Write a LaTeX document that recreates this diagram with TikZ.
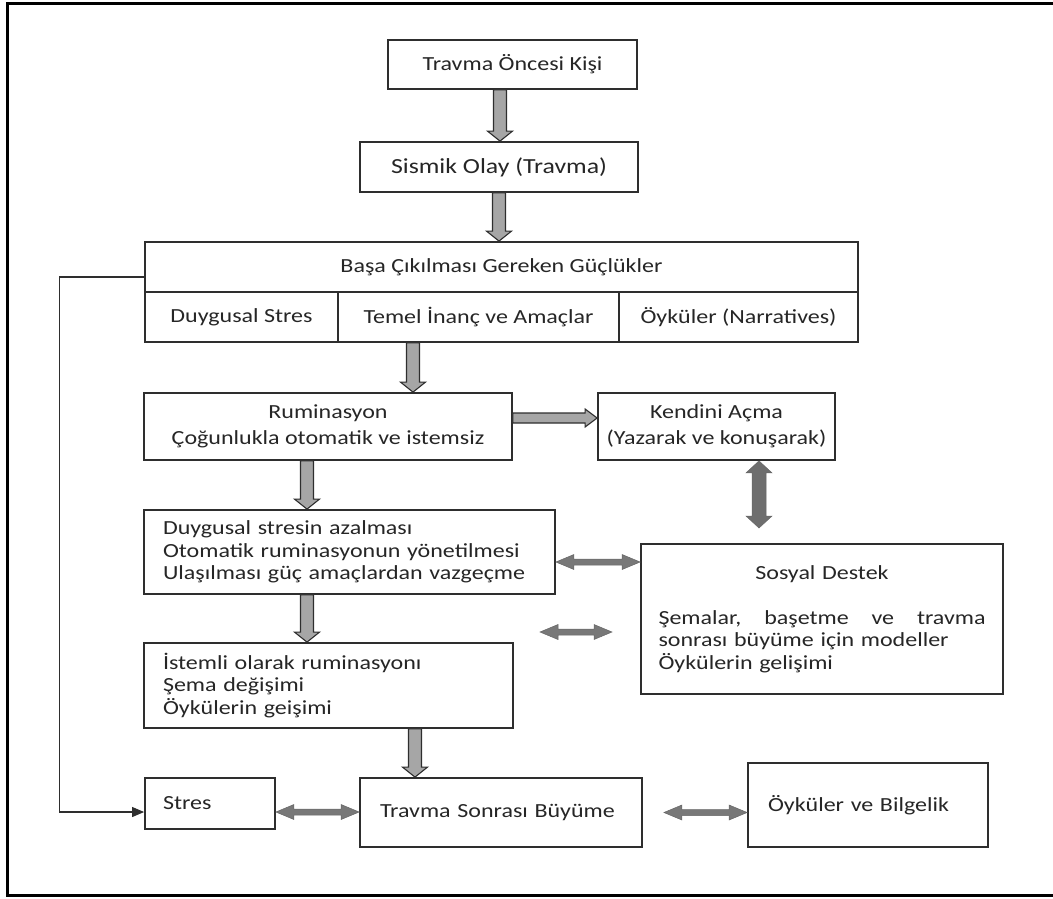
\documentclass[tikz,border=0pt]{standalone}
\usepackage{fontspec}
\setmainfont{Carlito}[FakeStretch=1.2]
\usetikzlibrary{calc,arrows.meta}

\definecolor{ink}{HTML}{262626}
\definecolor{edge}{HTML}{2E2E2E}
\definecolor{flowfill}{HTML}{A6A6A6}
\definecolor{linkfill}{HTML}{787878}
\definecolor{linkdark}{HTML}{6E6E6E}

% block arrow pointing down: shaft from #1, tip at the height of #2
\newcommand\downblk[2]{\path[flowarrow] let \p1=(#1), \p2=(#2) in
  (\x1-6.5pt,\y1) -- (\x1+6.5pt,\y1) -- (\x1+6.5pt,\y2+10pt) -- (\x1+12.5pt,\y2+10pt)
  -- (\x1,\y2) -- (\x1-12.5pt,\y2+10pt) -- (\x1-6.5pt,\y2+10pt) -- cycle;}
% block arrow pointing right
\newcommand\rightblk[2]{\path[flowarrow] let \p1=(#1), \p2=(#2) in
  (\x1,\y1+5pt) -- (\x2-12pt,\y1+5pt) -- (\x2-12pt,\y1+9pt) -- (\x2,\y1)
  -- (\x2-12pt,\y1-9pt) -- (\x2-12pt,\y1-5pt) -- (\x1,\y1-5pt) -- cycle;}
% vertical two-headed block arrow
\newcommand\vdblk[2]{\path[linkarrow, fill=linkdark] let \p1=(#1), \p2=(#2) in
  (\x1,\y1) -- (\x1+13pt,\y1-12pt) -- (\x1+7pt,\y1-12pt) -- (\x1+7pt,\y2+12pt)
  -- (\x1+13pt,\y2+12pt) -- (\x1,\y2) -- (\x1-13pt,\y2+12pt) -- (\x1-7pt,\y2+12pt)
  -- (\x1-7pt,\y1-12pt) -- (\x1-13pt,\y1-12pt) -- cycle;}
% horizontal two-headed arrow
\newcommand\hdblk[2]{\path[linkarrow] let \p1=(#1), \p2=(#2) in
  (\x1,\y1) -- (\x1+18pt,\y1+7.5pt) -- (\x1+18pt,\y1+3pt) -- (\x2-18pt,\y1+3pt)
  -- (\x2-18pt,\y1+7.5pt) -- (\x2,\y1) -- (\x2-18pt,\y1-7.5pt) -- (\x2-18pt,\y1-3pt)
  -- (\x1+18pt,\y1-3pt) -- (\x1+18pt,\y1-7.5pt) -- cycle;}

\begin{document}
\begin{tikzpicture}[x=1pt, y=-1pt,
  box/.style={draw=edge, line width=1.8pt, fill=white, inner sep=0pt, text=ink,
    font=\fontsize{20}{22.5}\selectfont, align=center},
  twoline/.style={font=\fontsize{20}{26}\selectfont},
  flowarrow/.style={fill=flowfill, draw=edge, line width=1.1pt},
  linkarrow/.style={fill=linkfill, draw=linkfill!85!black, line width=0.5pt},
  conn/.style={draw=edge, line width=1.1pt, -{Triangle[length=12pt,width=10pt]}}]
\useasboundingbox (0,0) rectangle (1053,898);
\clip (0,0) rectangle (1053,898);
\draw[line width=3pt] (7,3) rectangle (1075,895);

% boxes
\node[box, minimum width=249pt, minimum height=49pt] (pre) at (512.5,64.5) {Travma Öncesi Kişi};
\node[box, minimum width=278pt, minimum height=50pt, font=\fontsize{21.5}{24}\selectfont] (sis) at (499,167) {Sismik Olay (Travma)};
\node[box, minimum width=713pt, minimum height=50pt] (basa) at (501.5,267) {Başa Çıkılması Gereken Güçlükler};
\node[box, minimum width=193pt, minimum height=50pt] (s1) at (241.5,317) {Duygusal Stres};
\node[box, minimum width=281pt, minimum height=50pt] (s2) at (478.5,317) {Temel İnanç ve Amaçlar};
\node[box, minimum width=239pt, minimum height=50pt] (s3) at (738.5,317) {Öyküler (Narratives)};
\node[box, twoline, minimum width=368pt, minimum height=67pt] (rum) at (328,426.5) {Ruminasyon\\Çoğunlukla otomatik ve istemsiz};
\node[box, twoline, minimum width=237pt, minimum height=67pt] (ken) at (716.5,426.5) {Kendini Açma\\(Yazarak ve konuşarak)};
\node[box, minimum width=411pt, minimum height=84pt, text width=373pt, align=left] (duy) at (349.5,552)
  {Duygusal stresin azalması\\Otomatik ruminasyonun yönetilmesi\\Ulaşılması güç amaçlardan vazgeçme};
\node[box, minimum width=369pt, minimum height=85pt, text width=331pt, align=left] (ist) at (328.5,685.5)
  {İstemli olarak ruminasyonı\\Şema değişimi\\Öykülerin geişimi};
\node[box, minimum width=362pt, minimum height=150pt, text width=327pt, align=left] (sos) at (822,619)
  {\hfill Sosyal Destek\hfill\null\\[22.5pt]Şemalar,\hfill başetme\hfill ve\hfill travma\\sonrası büyüme için modeller\\Öykülerin gelişimi};
\node[box, minimum width=130pt, minimum height=51pt, text width=94pt, align=left] (str) at (210,803.5) {Stres};
\node[box, minimum width=282pt, minimum height=69pt, text width=242pt, align=left] (tsb) at (501,812.5) {Travma Sonrası Büyüme};
\node[box, minimum width=240pt, minimum height=84pt, text width=200pt, align=left] (oyk) at (868,805) {Öyküler ve Bilgelik};

% free ends of the two-headed arrows
\coordinate (kd) at (759,528);
\coordinate (fa) at (540,632);
\coordinate (fb) at (612,632);

% main flow
\downblk{[xshift=-12.5pt]pre.south}{sis.north}
\downblk{sis.south}{basa.north}
\downblk{[xshift=-65.5pt]s2.south}{rum.north}
\rightblk{[yshift=8.5pt]rum.east}{ken.west}
\downblk{[xshift=-21pt]rum.south}{duy.north}
\downblk{[xshift=-42.5pt]duy.south}{ist.north}
\downblk{[xshift=86.5pt]ist.south}{tsb.north}

% two-headed links
\vdblk{[xshift=42.5pt]ken.south}{kd}
\hdblk{[yshift=-10pt]duy.east}{sos.west}
\hdblk{fa}{fb}
\hdblk{[yshift=-8.5pt]str.east}{tsb.west}
\hdblk{[xshift=21pt]tsb.east}{oyk.west}

% side path to Stres
\draw[conn] ([yshift=-10pt]basa.west) -- ++(-85pt,0pt) |- ([yshift=-8.5pt]str.west);
\end{tikzpicture}
\end{document}
